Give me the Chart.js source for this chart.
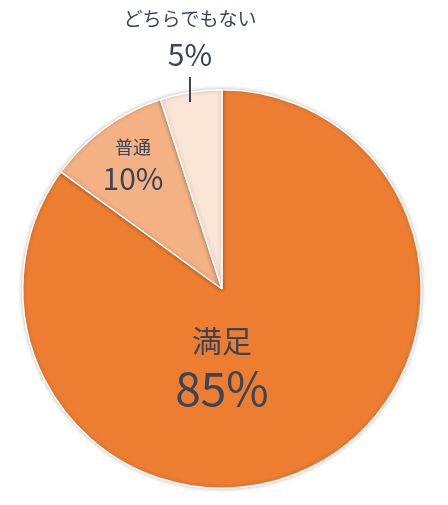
<!DOCTYPE html>
<html><head><meta charset="utf-8">
<script src="https://cdn.jsdelivr.net/npm/chart.js@4"></script>
<style>html,body{margin:0;padding:0;background:#fff}#wrap{width:448px;height:505px}</style>
</head><body><div id="wrap"><canvas id="c"></canvas></div>
<script>
const categories = ['満足', '普通', 'どちらでもない'];
const values = [85, 10, 5];
const colors = ['#ED7D31', '#F4B183', '#FBE5D6'];

// label layout: offsets from pie centre, sizes
const labelStyle = [
  { dx: 0, dy: 52, nameSize: 30, pctSize: 46, gap: 48 },
  { dx: -89, dy: -142, nameSize: 18, pctSize: 30, gap: 32 },
  { dx: -32, dy: -270, nameSize: 19, pctSize: 30, gap: 36, leader: true }
];

const labelPlugin = {
  id: 'labelPlugin',
  afterDraw(chart) {
    const ctx = chart.ctx;
    const arc = chart.getDatasetMeta(0).data[0];
    const cx = arc.x, cy = arc.y;
    ctx.save();
    ctx.fillStyle = '#3B4556';
    ctx.textAlign = 'center';
    ctx.textBaseline = 'middle';
    categories.forEach((name, i) => {
      const s = labelStyle[i];
      const x = cx + s.dx, y = cy + s.dy;
      ctx.font = s.nameSize + 'px "Noto Sans CJK JP"';
      ctx.fillText(name, x, y);
      ctx.font = s.pctSize + 'px "Noto Sans CJK JP"';
      ctx.fillText(values[i] + '%', x, y + s.gap);
      if (s.leader) {
        ctx.strokeStyle = '#3B4556';
        ctx.lineWidth = 2;
        ctx.beginPath();
        ctx.moveTo(x, y + s.gap + 22);
        ctx.lineTo(x, y + s.gap + 47);
        ctx.stroke();
      }
    });
    ctx.restore();
  }
};

const shadowPlugin = {
  id: 'shadowPlugin',
  beforeDatasetsDraw(chart) {
    chart.ctx.save();
    chart.ctx.shadowColor = 'rgba(0,0,0,0.25)';
    chart.ctx.shadowBlur = 4;
  },
  afterDatasetsDraw(chart) { chart.ctx.restore(); }
};

new Chart(document.getElementById('c'), {
  type: 'pie',
  data: {
    labels: categories,
    datasets: [{ data: values, backgroundColor: colors, borderColor: '#fff', borderWidth: 1.5 }]
  },
  options: {
    responsive: true,
    maintainAspectRatio: false,
    animation: false,
    layout: { padding: { top: 89, bottom: 16, left: 22, right: 26 } },
    plugins: { legend: { display: false }, tooltip: { enabled: false } }
  },
  plugins: [shadowPlugin, labelPlugin]
});
</script></body></html>
